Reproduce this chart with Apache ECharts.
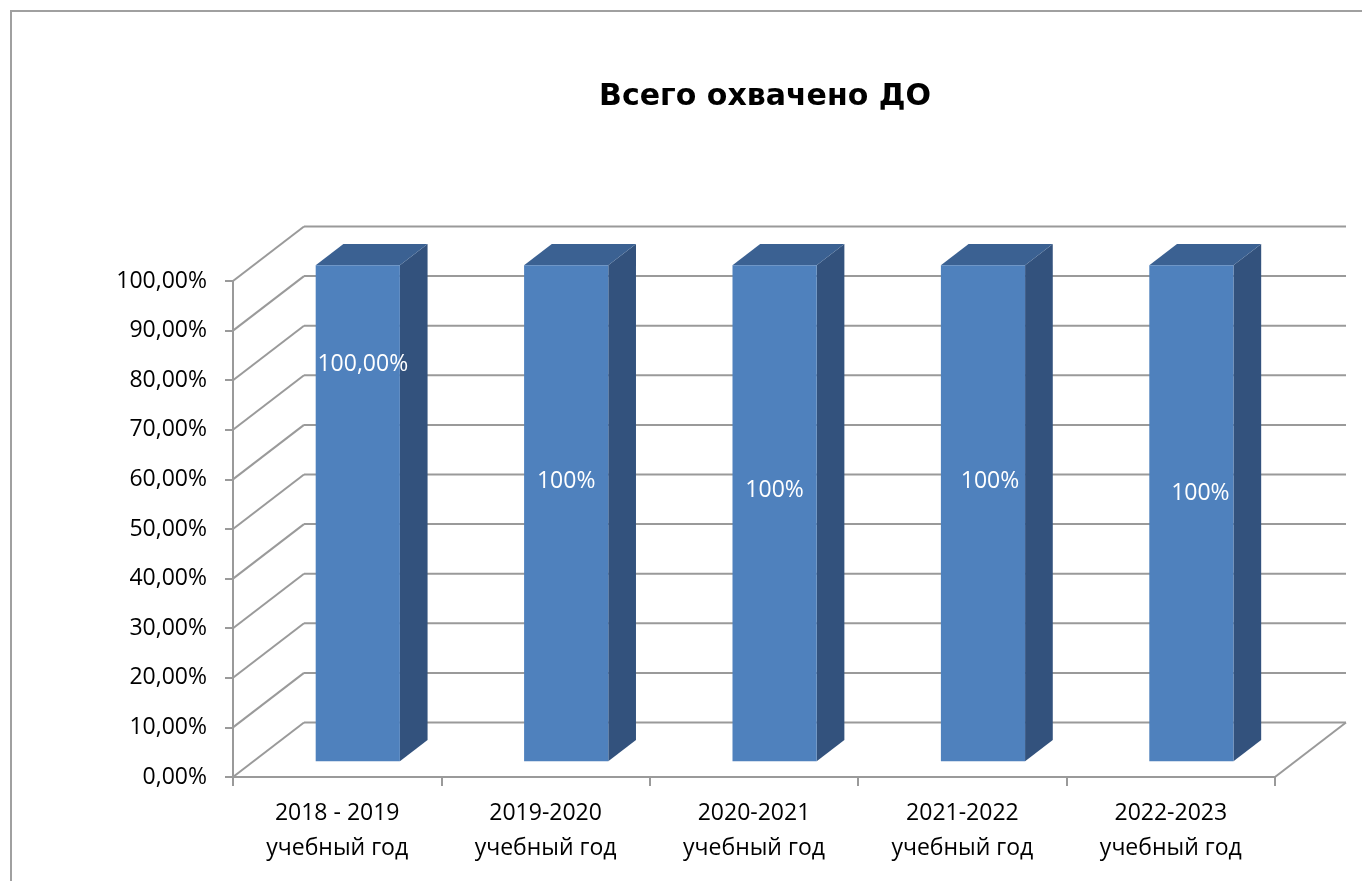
<!DOCTYPE html>
<html>
<head>
<meta charset="utf-8">
<script src="https://cdn.jsdelivr.net/npm/echarts@6/dist/echarts.min.js"></script>
<style>
html,body{margin:0;padding:0;background:#fff;}
#chart{width:1362px;height:881px;}
</style>
</head>
<body>
<div id="chart"></div>
<script>
// ---- data ----
var categories = ['2018 - 2019\nучебный год', '2019-2020\nучебный год', '2020-2021\nучебный год', '2021-2022\nучебный год', '2022-2023\nучебный год'];
var values = [1.0, 1.0, 1.0, 1.0, 1.0];
var labelTexts = ['100,00%', '100%', '100%', '100%', '100%'];
var labelHeights = [0.80, 0.565, 0.545, 0.563, 0.539];
var yTicks = [0, 0.1, 0.2, 0.3, 0.4, 0.5, 0.6, 0.7, 0.8, 0.9, 1.0];

// ---- layout / style constants ----
var DX = 71, DY = -54.5;          // depth of the 3D floor/back wall
var FRONT = 0.29, DEPTH = 0.39;   // bar position and thickness in depth
var BAR_W = 0.404;                // bar width relative to category band
var labelShift = [5, 0, 0, 7, 9];
var GRID_COLOR = '#9a9a9a';
var FONT = '"Open Sans", "Noto Sans", sans-serif';

var chart = echarts.init(document.getElementById('chart'));

function fmtPct(v) {
  return (Math.round(v * 100)).toFixed(0) + ',00%';
}

var option = {
  animation: false,
  backgroundColor: '#ffffff',
  title: {
    text: 'Всего охвачено ДО',
    left: 760,
    top: 77,
    textAlign: 'center',
    textStyle: { fontFamily: '"DejaVu Sans", sans-serif', fontSize: 30, fontWeight: 'bold', color: '#000' }
  },
  graphic: [{
    type: 'rect',
    shape: { x: 11, y: 11, width: 1400, height: 920 },
    style: { fill: 'none', stroke: '#a0a0a0', lineWidth: 2 },
    silent: true
  }],
  grid: { left: 233, right: 87, top: 281, bottom: 104, containLabel: false },
  xAxis: {
    type: 'category',
    data: categories,
    boundaryGap: true,
    axisLine: { lineStyle: { color: GRID_COLOR, width: 2 } },
    axisTick: { show: true, length: 9, lineStyle: { color: GRID_COLOR, width: 2 } },
    axisLabel: { fontFamily: FONT, fontSize: 23, color: '#000', lineHeight: 35, margin: 19, interval: 0 },
    splitLine: { show: false }
  },
  yAxis: {
    type: 'value',
    min: 0, max: 1, interval: 0.1,
    axisLine: { show: true, lineStyle: { color: GRID_COLOR, width: 2 } },
    axisTick: { show: true, length: 8, lineStyle: { color: GRID_COLOR, width: 2 } },
    axisLabel: { fontFamily: FONT, fontSize: 23, color: '#000', margin: 26, formatter: fmtPct },
    splitLine: { show: false }
  },
  series: [
    {
      type: 'custom',
      name: 'walls',
      silent: true,
      z: 1,
      data: yTicks.map(function (v) { return [0, v]; }),
      renderItem: function (params, api) {
        var cs = params.coordSys;
        var v = api.value(1);
        var y = api.coord([0, v])[1];
        var x0 = cs.x, x1 = cs.x + cs.width;
        var style = { stroke: GRID_COLOR, lineWidth: 2, fill: null };
        var children = [
          { type: 'line', shape: { x1: x0, y1: y, x2: x0 + DX, y2: y + DY }, style: style },
          { type: 'line', shape: { x1: x0 + DX, y1: y + DY, x2: x1 + DX, y2: y + DY }, style: style }
        ];
        if (v === 0) {
          children.push({ type: 'line', shape: { x1: x1, y1: y, x2: x1 + DX, y2: y + DY }, style: style });
        }
        return { type: 'group', children: children };
      }
    },
    {
      type: 'custom',
      name: 'Всего охвачено ДО',
      z: 2,
      data: values.map(function (v, i) { return [i, v]; }),
      renderItem: function (params, api) {
        var i = api.value(0);
        var top = api.coord([i, api.value(1)]);
        var base = api.coord([i, 0]);
        var band = api.size([1, 0])[0];
        var w = band * BAR_W;
        var fx = FRONT * DX, fy = FRONT * DY;
        var bx = DEPTH * DX, by = DEPTH * DY;
        var xl = top[0] - w / 2 + fx, xr = top[0] + w / 2 + fx;
        var yt = top[1] + fy, yb = base[1] + fy;
        var ly = api.coord([i, labelHeights[i]])[1] + fy;
        return {
          type: 'group',
          children: [
            { type: 'polygon', shape: { points: [[xr, yt], [xr + bx, yt + by], [xr + bx, yb + by], [xr, yb]] },
              style: { fill: '#33527d' } },
            { type: 'polygon', shape: { points: [[xl, yt], [xl + bx, yt + by], [xr + bx, yt + by], [xr, yt]] },
              style: { fill: '#3b6192' } },
            { type: 'rect', shape: { x: xl, y: yt, width: w, height: yb - yt },
              style: { fill: '#4f81bd' } },
            { type: 'text', x: (xl + xr) / 2 + labelShift[i], y: ly,
              style: { text: labelTexts[i], fill: '#ffffff', font: '23px ' + FONT, align: 'center', verticalAlign: 'middle' } }
          ]
        };
      }
    }
  ]
};
chart.setOption(option);
</script>
</body>
</html>
